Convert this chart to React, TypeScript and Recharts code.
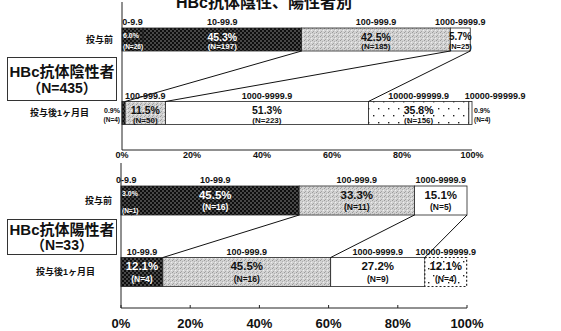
import React from "react";
import { BarChart, Bar, XAxis, YAxis } from "recharts";

const FONT = '"Liberation Sans", "Noto Sans CJK JP", sans-serif';

const rows = ["投与前", "投与後1ヶ月目"];
const pctTicks = [0, 20, 40, 60, 80, 100];

// HBc抗体陰性者 (N=435)
const negBeforeValues = [6.0, 45.3, 42.5, 5.7];
const negBeforePct = ["6.0%", "45.3%", "42.5%", "5.7%"];
const negBeforeN = ["(N=26)", "(N=197)", "(N=185)", "(N=25)"];
const negBeforeRanges = ["0-9.9", "10-99.9", "100-999.9", "1000-9999.9"];
const negAfterValues = [0.9, 11.5, 58.0, 28.7, 0.9];
const negAfterPct = ["0.9%", "11.5%", "51.3%", "35.8%", "0.9%"];
const negAfterN = ["(N=4)", "(N=50)", "(N=223)", "(N=156)", "(N=4)"];
const negAfterRanges = ["", "100-999.9", "1000-9999.9", "10000-99999.9", "10000-99999.9"];

// HBc抗体陽性者 (N=33)
const posBeforeValues = [3.0, 48.5, 33.3, 15.2];
const posBeforePct = ["3.0%", "45.5%", "33.3%", "15.1%"];
const posBeforeN = ["(N=1)", "(N=16)", "(N=11)", "(N=5)"];
const posBeforeRanges = ["0-9.9", "10-99.9", "100-999.9", "1000-9999.9"];
const posAfterValues = [12.1, 48.5, 27.2, 12.1];
const posAfterPct = ["12.1%", "45.5%", "27.2%", "12.1%"];
const posAfterN = ["(N=4)", "(N=16)", "(N=9)", "(N=4)"];
const posAfterRanges = ["10-99.9", "100-999.9", "1000-9999.9", "10000-99999.9"];

// which segment end before -> which segment end after
const links = [[1, 0], [2, 1], [3, 2]];

// segment looks
const negBeforeFills = ["dark", "dark", "gray", "white"];
const negAfterFills = ["dark", "gray", "white", "dots", "white"];
const posBeforeFills = ["dark", "dark", "gray", "white"];
const posAfterFills = ["dark", "gray", "white", "dotsDash"];

const FILL: Record<string, string> = {
  dark: "url(#pDark)",
  gray: "url(#pGray)",
  white: "#fff",
  dots: "url(#pDots)",
  dotsDash: "url(#pDots)",
};

type RowSpec = { values: number[]; pct: string[]; n: string[]; ranges: string[]; fills: string[] };

const topGeom = {
  h: 162, margin: { top: 2, right: 89, bottom: 0, left: 12 }, yw: 110, xh: 12,
  pad: { top: 1, bottom: 0 }, bar: 23, tickFont: 9, tickSize: 0, tickMargin: 2,
  pctFont: 10.5, nFont: 8, pctDy: 8.5, nDy: 18.5, afterShift: 25,
};
const bottomGeom = {
  h: 171, margin: { top: 3, right: 94, bottom: 0, left: 11 }, yw: 110, xh: 23,
  pad: { top: 2, bottom: 0 }, bar: 29, tickFont: 13, tickSize: -3, tickMargin: 14,
  pctFont: 11.5, nFont: 8.5, pctDy: 8.5, nDy: 21, afterShift: 18,
};

const sum = (a: number[], n: number) => a.slice(0, n).reduce((s, v) => s + v, 0);

function rowLabels(r: RowSpec, x0: number, y: number, height: number, g: any, pxPer: number) {
  const out: any[] = [];
  r.values.forEach((v, seg) => {
    const x = x0 + sum(r.values, seg) * pxPer;
    const width = v * pxPer;
    const kind = r.fills[seg];
    const txt = kind === "dark" ? "#fff" : "#111";
    const last = seg === r.values.length - 1;
    const tiny = v < 2;
    const small = width < 26;
    const cx = x + width / 2;
    if (r.ranges[seg]) {
      out.push(
        <text key={"rg" + seg} x={tiny && last ? x - 4 : cx} y={y - 3} textAnchor={tiny && last ? "start" : "middle"}
          fontSize={9} fontWeight="bold" fontFamily={FONT} fill="#111">{r.ranges[seg]}</text>
      );
    }
    if (tiny) {
      const tx = seg === 0 ? x - 2 : x + width + 2;
      const anchor = seg === 0 ? "end" : "start";
      out.push(
        <text key={"p" + seg} x={tx} y={y + 9} textAnchor={anchor} dominantBaseline="central" fontSize={7}
          fontWeight="bold" fontFamily={FONT} fill="#111">{r.pct[seg]}</text>,
        <text key={"n" + seg} x={tx} y={y + 18} textAnchor={anchor} dominantBaseline="central" fontSize={6.5}
          fontWeight="bold" fontFamily={FONT} fill="#111">{r.n[seg]}</text>
      );
    } else if (small && seg === 0) {
      out.push(
        <text key={"p" + seg} x={x + 1} y={y + 7.5} dominantBaseline="central" fontSize={7}
          fontWeight="bold" fontFamily={FONT} fill={txt}>{r.pct[seg]}</text>,
        <text key={"n" + seg} x={x + 1} y={y + height - 5} dominantBaseline="central" fontSize={6.5}
          fontWeight="bold" fontFamily={FONT} fill={txt}>{r.n[seg]}</text>
      );
    } else {
      out.push(
        <text key={"p" + seg} x={cx} y={y + g.pctDy} textAnchor="middle" dominantBaseline="central"
          fontSize={small ? 10 : g.pctFont} fontWeight="bold" fontFamily={FONT} fill={txt}>{r.pct[seg]}</text>,
        <text key={"n" + seg} x={cx} y={y + g.nDy} textAnchor="middle" dominantBaseline="central"
          fontSize={small ? 7.5 : g.nFont} fontWeight="bold" fontFamily={FONT} fill={txt}>{r.n[seg]}</text>
      );
    }
  });
  return out;
}

function makeShape(seg: number, spec: RowSpec[], g: any, pxPer: number, gap: number) {
  return (p: any) => {
    const { x, y, width, height, index } = p;
    const r = spec[index];
    const v = r.values[seg];
    if (v === undefined || !width) return <g />;
    const kind = r.fills[seg];
    const parts: any[] = [
      <rect key="r" x={x} y={y} width={width} height={height} fill={FILL[kind]}
        stroke="#222" strokeWidth={kind === "dotsDash" ? 1.2 : 0.8}
        strokeDasharray={kind === "dotsDash" ? "2 2" : undefined} />,
    ];
    // the last segment of a row carries all texts and connectors, so they sit on top
    if (seg === r.values.length - 1) {
      const x0 = x - sum(r.values, seg) * pxPer;
      parts.push(...rowLabels(r, x0, y, height, g, pxPer));
      if (index === 1) {
        links.forEach(([b, a], i) => {
          const upper = sum(spec[0].values, b + 1);
          const lower = sum(r.values, a + 1);
          parts.push(
            <line key={"l" + i} x1={x0 + lower * pxPer} y1={y} x2={x0 + upper * pxPer} y2={y - gap}
              stroke="#111" strokeWidth={1} />
          );
        });
      }
    }
    return <g>{parts}</g>;
  };
}

function Panel({ spec, g }: { spec: RowSpec[]; g: any }) {
  const width = 561;
  const plotW = width - g.margin.left - g.margin.right - g.yw;
  const plotH = g.h - g.margin.top - g.margin.bottom - g.xh;
  const band = (plotH - g.pad.top - g.pad.bottom) / rows.length;
  const gap = band - g.bar;
  const pxPer = plotW / 100;
  const data = rows.map((row, ri) => {
    const o: any = { row };
    spec[ri].values.forEach((v, i) => (o["s" + i] = v));
    return o;
  });
  const nSeg = Math.max(...spec.map((s) => s.values.length));
  const segs = Array.from({ length: nSeg }, (_, i) => i);
  return (
    <BarChart width={width} height={g.h} data={data} layout="vertical" margin={g.margin} barCategoryGap={0}>
      <XAxis
        type="number"
        domain={[0, 100]}
        ticks={pctTicks}
        tickFormatter={(v: number) => `${v}%`}
        height={g.xh}
        axisLine={{ stroke: "#222" }}
        tickLine={g.tickSize !== 0 ? { stroke: "#222" } : false}
        tickSize={g.tickSize}
        tickMargin={g.tickMargin}
        tick={{ fontSize: g.tickFont, fontWeight: "bold", fill: "#111", fontFamily: FONT }}
      />
      <YAxis
        type="category"
        dataKey="row"
        width={g.yw}
        padding={g.pad}
        axisLine={{ stroke: "#222" }}
        tickLine={false}
        tick={(p: any) => (
          <text x={p.payload.value === rows[0] ? p.x - 1 : p.x - g.afterShift} y={p.y} textAnchor="end"
            dominantBaseline="central" fontSize={9} fontWeight="bold" fontFamily={FONT} fill="#111">
            {p.payload.value}
          </text>
        )}
      />
      {segs.map((i) => (
        <Bar key={i} dataKey={"s" + i} stackId="a" barSize={g.bar} isAnimationActive={false}
          shape={makeShape(i, spec, g, pxPer, gap)} />
      ))}
    </BarChart>
  );
}

export default function App() {
  const negSpec: RowSpec[] = [
    { values: negBeforeValues, pct: negBeforePct, n: negBeforeN, ranges: negBeforeRanges, fills: negBeforeFills },
    { values: negAfterValues, pct: negAfterPct, n: negAfterN, ranges: negAfterRanges, fills: negAfterFills },
  ];
  const posSpec: RowSpec[] = [
    { values: posBeforeValues, pct: posBeforePct, n: posBeforeN, ranges: posBeforeRanges, fills: posBeforeFills },
    { values: posAfterValues, pct: posAfterPct, n: posAfterN, ranges: posAfterRanges, fills: posAfterFills },
  ];
  return (
    <div style={{ position: "absolute", left: 0, top: 0, width: 561, height: 331, background: "#fff", overflow: "hidden" }}>
      <svg width={0} height={0} style={{ position: "absolute" }}>
        <defs>
          <pattern id="pDark" width={4} height={4} patternUnits="userSpaceOnUse">
            <rect width={4} height={4} fill="#0e0e0e" />
            <rect x={0.5} y={0.5} width={1} height={1} fill="#f0f0f0" />
            <rect x={2.5} y={2.5} width={1} height={1} fill="#f0f0f0" />
          </pattern>
          <pattern id="pGray" width={4} height={4} patternUnits="userSpaceOnUse">
            <rect width={4} height={4} fill="#d2d2d2" />
            <rect x={0} y={0} width={1} height={1} fill="#9a9a9a" />
            <rect x={2} y={1} width={1} height={1} fill="#b0b0b0" />
            <rect x={1} y={3} width={1} height={1} fill="#a5a5a5" />
            <rect x={3} y={2} width={1} height={1} fill="#efefef" />
          </pattern>
          <pattern id="pDots" width={20} height={14} patternUnits="userSpaceOnUse">
            <rect width={20} height={14} fill="#fff" />
            <rect x={3} y={3} width={1.4} height={1.4} fill="#222" />
            <rect x={13} y={3} width={1.4} height={1.4} fill="#222" />
            <rect x={8} y={10} width={1.4} height={1.4} fill="#222" />
            <rect x={18} y={10} width={1.4} height={1.4} fill="#222" />
          </pattern>
        </defs>
      </svg>
      <div style={{ position: "absolute", left: 0, top: 0 }}>
        <Panel spec={negSpec} g={topGeom} />
      </div>
      <div style={{ position: "absolute", left: 0, top: 160 }}>
        <Panel spec={posSpec} g={bottomGeom} />
      </div>
      <svg width={561} height={331} style={{ position: "absolute", left: 0, top: 0, pointerEvents: "none" }}>
        <text x={264} y={8} textAnchor="middle" fontSize={16} fontWeight="bold" fontFamily={FONT} fill="#111">
          HBc抗体陰性、陽性者別
        </text>
        <rect x={7.5} y={57.5} width={109} height={43} fill="#fff" stroke="#333" strokeWidth={1} />
        <text x={62} y={71} textAnchor="middle" dominantBaseline="central" fontSize={15} fontWeight="bold" fontFamily={FONT} fill="#111">
          HBc抗体陰性者
        </text>
        <text x={62} y={88} textAnchor="middle" dominantBaseline="central" fontSize={14} fontWeight="bold" fontFamily={FONT} fill="#111">
          （N=435）
        </text>
        <rect x={7.5} y={219.5} width={109} height={35} fill="#fff" stroke="#333" strokeWidth={1} />
        <text x={62} y={229} textAnchor="middle" dominantBaseline="central" fontSize={15} fontWeight="bold" fontFamily={FONT} fill="#111">
          HBc抗体陽性者
        </text>
        <text x={62} y={245} textAnchor="middle" dominantBaseline="central" fontSize={14} fontWeight="bold" fontFamily={FONT} fill="#111">
          （N=33）
        </text>
      </svg>
    </div>
  );
}
